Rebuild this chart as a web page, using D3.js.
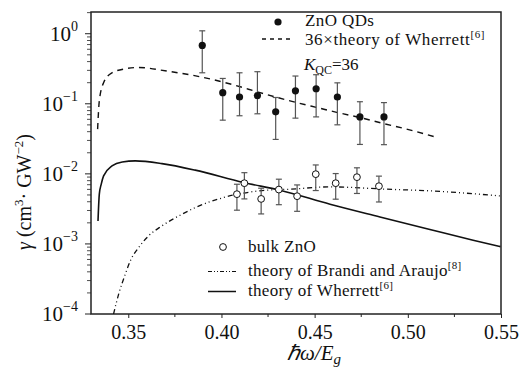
<!DOCTYPE html>
<html>
<head>
<meta charset="utf-8">
<script src="https://cdn.jsdelivr.net/npm/d3@7"></script>
<style>
  body { margin: 0; background: #fff; }
  svg text { font-family: "Liberation Serif", "Times New Roman", serif; fill: #111; }
</style>
</head>
<body>
<div id="chart"></div>
<script>
// ZnO QDs (filled dots) with error bars
const qdX  = [0.3897, 0.4007, 0.4097, 0.4193, 0.4291, 0.4397, 0.4508, 0.4622, 0.4743, 0.4872];
const qdY  = [0.681, 0.144, 0.125, 0.131, 0.0767, 0.153, 0.164, 0.125, 0.065, 0.065];
const qdHi = [1.10, 0.230, 0.277, 0.287, 0.123, 0.249, 0.260, 0.199, 0.107, 0.104];
const qdLo = [0.277, 0.0584, 0.0675, 0.072, 0.031, 0.0624, 0.065, 0.0501, 0.0263, 0.0261];

// bulk ZnO (open circles)
const bulkX  = [0.4083, 0.4123, 0.4213, 0.4308, 0.4406, 0.4506, 0.4613, 0.4727, 0.4845];
const bulkY  = [0.00513, 0.00736, 0.00439, 0.00597, 0.0048, 0.0099, 0.00736, 0.00897, 0.00667];
const bulkHi = [0.00711, 0.0104, 0.00624, 0.00839, 0.00695, 0.0134, 0.0101, 0.0122, 0.00928];
const bulkLo = [0.00303, 0.00439, 0.00268, 0.00363, 0.00292, 0.00578, 0.00435, 0.00525, 0.00397];

// 36 x theory of Wherrett (dashed)
const w36X = [0.33355, 0.33446, 0.33676, 0.34126, 0.34839, 0.35536, 0.37144, 0.38859, 0.40627, 0.42074, 0.44041, 0.45113, 0.46361, 0.47433, 0.48682, 0.49936, 0.51506];
const w36Y = [0.0435, 0.110, 0.200, 0.277, 0.316, 0.330, 0.291, 0.243, 0.187, 0.144, 0.104, 0.0886, 0.0736, 0.0637, 0.0523, 0.0435, 0.0334];

// theory of Wherrett (solid)
const wX = [0.33376, 0.33446, 0.33553, 0.33676, 0.34126, 0.34678, 0.35375, 0.36806, 0.38591, 0.41179, 0.43146, 0.45825, 0.48505, 0.51185, 0.53505, 0.54973];
const wY = [0.00213, 0.00513, 0.0072, 0.00936, 0.0130, 0.0148, 0.0153, 0.0140, 0.0113, 0.00751, 0.00585, 0.00369, 0.00243, 0.00161, 0.00113, 0.000915];

// theory of Brandi and Araujo (dash-dot-dot)
const baX = [0.3421, 0.3448, 0.34839, 0.35107, 0.35552, 0.36088, 0.36806, 0.37878, 0.38591, 0.40107, 0.42433, 0.43682, 0.45825, 0.48864, 0.51184, 0.54936];
const baY = [0.0001, 0.000191, 0.000369, 0.000572, 0.000885, 0.0013, 0.00181, 0.00265, 0.0033, 0.00459, 0.00585, 0.00604, 0.00652, 0.00604, 0.00572, 0.00485];

const xTicks = [0.35, 0.40, 0.45, 0.50, 0.55];
const yExps = [0, -1, -2, -3, -4];

const W = 521, H = 369;
const m = { left: 91, top: 12, right: 501, bottom: 314 };

const svg = d3.select('#chart').append('svg')
  .attr('width', W).attr('height', H);

const x = d3.scaleLinear().domain([0.33, 0.55]).range([m.left, m.right]);
const y = d3.scaleLog().domain([1e-4, Math.pow(10, 0.31)]).range([m.bottom, m.top]);

svg.append('clipPath').attr('id', 'clip')
  .append('rect')
  .attr('x', m.left).attr('y', m.top)
  .attr('width', m.right - m.left).attr('height', m.bottom - m.top);

// x axis ticks (major + minor)
const xAxis = d3.axisBottom(x).tickValues(xTicks).tickSize(4).tickPadding(0).tickFormat(d3.format('.2f'));
const gx = svg.append('g').attr('transform', `translate(0,${m.bottom})`).call(xAxis);
gx.select('.domain').remove();
gx.selectAll('line').attr('stroke', '#222');
gx.selectAll('text').attr('font-size', 20).attr('y', 25).attr('dy', 0);
const xMinor = [0.375, 0.425, 0.475, 0.525];
svg.append('g').selectAll('line').data(xMinor).enter().append('line')
  .attr('x1', d => x(d)).attr('x2', d => x(d))
  .attr('y1', m.bottom).attr('y2', m.bottom + 3)
  .attr('stroke', '#222');

// y axis ticks
const yMinor = [];
for (let e = -4; e <= 0; e++) {
  for (let k = 2; k <= 9; k++) {
    const v = k * Math.pow(10, e);
    if (v < y.domain()[1]) yMinor.push(v);
  }
}
svg.append('g').selectAll('line').data(yMinor).enter().append('line')
  .attr('x1', m.left - 4).attr('x2', m.left)
  .attr('y1', d => y(d)).attr('y2', d => y(d))
  .attr('stroke', '#222').attr('stroke-width', 0.8);
svg.append('g').selectAll('line').data(yExps).enter().append('line')
  .attr('x1', m.left - 6).attr('x2', m.left)
  .attr('y1', d => y(Math.pow(10, d))).attr('y2', d => y(Math.pow(10, d)))
  .attr('stroke', '#222');
const yLab = svg.append('g').selectAll('text').data(yExps).enter().append('text')
  .attr('x', m.left - 13).attr('y', d => y(Math.pow(10, d)) + 7)
  .attr('text-anchor', 'end')
  .attr('font-size', 21);
yLab.append('tspan').text('10');
yLab.append('tspan').attr('font-size', 14).attr('dy', -10)
  .text(d => d === 0 ? '0' : '\u2212' + Math.abs(d));

// frame
svg.append('rect')
  .attr('x', m.left).attr('y', m.top)
  .attr('width', m.right - m.left).attr('height', m.bottom - m.top)
  .attr('fill', 'none').attr('stroke', '#222').attr('stroke-width', 1.5);

// curves
const line = (xs, ys) => d3.line()
  .x(i => x(xs[i])).y(i => y(ys[i]))
  .curve(d3.curveMonotoneX)(d3.range(xs.length));

const plot = svg.append('g').attr('clip-path', 'url(#clip)');
plot.append('path').attr('d', line(w36X, w36Y))
  .attr('fill', 'none').attr('stroke', '#111').attr('stroke-width', 1.4)
  .attr('stroke-dasharray', '6,5');
plot.append('path').attr('d', line(wX, wY))
  .attr('fill', 'none').attr('stroke', '#111').attr('stroke-width', 1.6);
plot.append('path').attr('d', line(baX, baY))
  .attr('fill', 'none').attr('stroke', '#111').attr('stroke-width', 1.3)
  .attr('stroke-dasharray', '5,3,1,3,1,3');

// error bars
function errorBars(xs, ys, lo, hi) {
  const g = plot.append('g').attr('stroke', '#555').attr('stroke-width', 1.2);
  xs.forEach((xv, i) => {
    const px = x(xv);
    g.append('line').attr('x1', px).attr('x2', px).attr('y1', y(lo[i])).attr('y2', y(hi[i]));
    g.append('line').attr('x1', px - 3).attr('x2', px + 3).attr('y1', y(lo[i])).attr('y2', y(lo[i]));
    g.append('line').attr('x1', px - 3).attr('x2', px + 3).attr('y1', y(hi[i])).attr('y2', y(hi[i]));
  });
}
errorBars(qdX, qdY, qdLo, qdHi);
errorBars(bulkX, bulkY, bulkLo, bulkHi);

plot.append('g').selectAll('circle').data(qdX).enter().append('circle')
  .attr('cx', d => x(d)).attr('cy', (d, i) => y(qdY[i])).attr('r', 3.6)
  .attr('fill', '#111');
plot.append('g').selectAll('circle').data(bulkX).enter().append('circle')
  .attr('cx', d => x(d)).attr('cy', (d, i) => y(bulkY[i])).attr('r', 3.4)
  .attr('fill', '#fff').attr('stroke', '#111').attr('stroke-width', 1);

// legends
const fs = 17;
svg.append('circle').attr('cx', 278).attr('cy', 22).attr('r', 3.6).attr('fill', '#111');
svg.append('text').attr('x', 305).attr('y', 26).attr('font-size', fs)
  .attr('letter-spacing', 0.4).text('ZnO QDs');
svg.append('line').attr('x1', 262).attr('x2', 290).attr('y1', 39).attr('y2', 39)
  .attr('stroke', '#111').attr('stroke-width', 1.4).attr('stroke-dasharray', '4,4');
const t2 = svg.append('text').attr('x', 305).attr('y', 45).attr('font-size', fs)
  .attr('letter-spacing', 0.6);
t2.append('tspan').text('36\u00d7theory of Wherrett');
t2.append('tspan').attr('font-size', 11).attr('dy', -7).text('[6]');
const tk = svg.append('text').attr('x', 304).attr('y', 70).attr('font-size', fs);
tk.append('tspan').attr('font-style', 'italic').text('K');
tk.append('tspan').attr('font-size', 12).attr('dy', 4).text('QC');
tk.append('tspan').attr('dy', -4).text('=36');

svg.append('circle').attr('cx', 223).attr('cy', 247).attr('r', 3.4)
  .attr('fill', '#fff').attr('stroke', '#111').attr('stroke-width', 1);
svg.append('text').attr('x', 248).attr('y', 252).attr('font-size', fs)
  .attr('letter-spacing', 0.3).text('bulk ZnO');
svg.append('line').attr('x1', 208).attr('x2', 236).attr('y1', 271.5).attr('y2', 271.5)
  .attr('stroke', '#111').attr('stroke-width', 1.2).attr('stroke-dasharray', '4,2,1,2,1,2');
const t4 = svg.append('text').attr('x', 248).attr('y', 276).attr('font-size', fs)
  .attr('letter-spacing', 0.3);
t4.append('tspan').text('theory of Brandi and Araujo');
t4.append('tspan').attr('font-size', 11).attr('dy', -7).text('[8]');
svg.append('line').attr('x1', 208).attr('x2', 236).attr('y1', 291.5).attr('y2', 291.5)
  .attr('stroke', '#111').attr('stroke-width', 1.5);
const t5 = svg.append('text').attr('x', 248).attr('y', 296).attr('font-size', fs)
  .attr('letter-spacing', 0.3);
t5.append('tspan').text('theory of Wherrett');
t5.append('tspan').attr('font-size', 11).attr('dy', -7).text('[6]');

// axis titles
const xt = svg.append('text').attr('x', 314).attr('y', 360).attr('text-anchor', 'middle')
  .attr('font-size', 21).attr('font-style', 'italic');
xt.append('tspan').text('\u210fω/E');
xt.append('tspan').attr('font-size', 15).attr('dy', 4).text('g');

const yt = svg.append('text').attr('transform', 'translate(31,192) rotate(-90)')
  .attr('text-anchor', 'middle').attr('font-size', 20);
yt.append('tspan').attr('font-style', 'italic').text('γ');
yt.append('tspan').text(' (cm');
yt.append('tspan').attr('font-size', 13).attr('dy', -8).text('3');
yt.append('tspan').attr('dy', 8).text('· GW');
yt.append('tspan').attr('font-size', 13).attr('dy', -8).text('\u22122');
yt.append('tspan').attr('dy', 8).text(')');
</script>
</body>
</html>
